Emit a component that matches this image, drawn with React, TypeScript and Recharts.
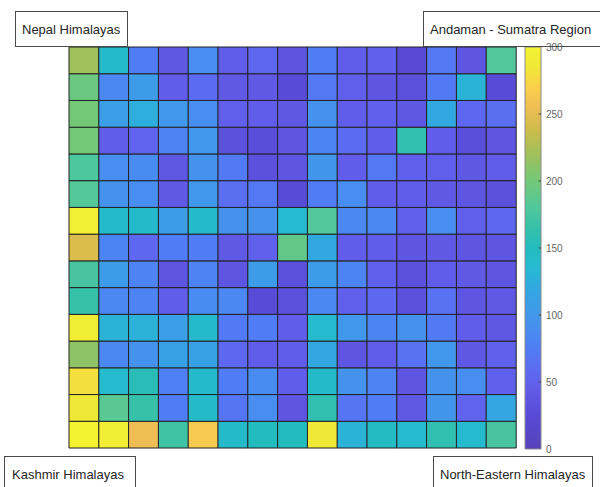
import { BarChart, Bar, Cell, XAxis, YAxis } from "recharts";

// 15 x 15 grid of cell values, row 1 = top of the map
const COLUMNS = ["c1", "c2", "c3", "c4", "c5", "c6", "c7", "c8", "c9", "c10", "c11", "c12", "c13", "c14", "c15"];

const ROW_1 = [220, 140, 75, 40, 90, 45, 55, 35, 75, 45, 50, 22, 70, 38, 180];
const ROW_2 = [195, 85, 105, 45, 60, 42, 42, 25, 70, 48, 38, 32, 72, 130, 25];
const ROW_3 = [200, 110, 125, 100, 90, 48, 45, 40, 95, 45, 50, 40, 120, 55, 62];
const ROW_4 = [200, 45, 52, 80, 100, 32, 28, 38, 82, 60, 45, 160, 45, 30, 38];
const ROW_5 = [178, 90, 88, 40, 95, 72, 32, 38, 98, 45, 70, 50, 48, 40, 45];
const ROW_6 = [182, 95, 90, 42, 100, 62, 70, 25, 75, 90, 45, 45, 42, 38, 32];
const ROW_7 = [295, 140, 142, 105, 140, 95, 95, 135, 180, 85, 85, 48, 90, 48, 55];
const ROW_8 = [245, 82, 55, 75, 75, 42, 50, 190, 120, 45, 45, 38, 42, 38, 38];
const ROW_9 = [175, 105, 80, 38, 80, 38, 105, 32, 105, 82, 50, 32, 45, 42, 38];
const ROW_10 = [165, 85, 80, 45, 88, 85, 25, 32, 85, 50, 55, 32, 65, 38, 42];
const ROW_11 = [292, 130, 128, 110, 140, 72, 75, 45, 138, 100, 82, 95, 72, 45, 40];
const ROW_12 = [212, 85, 95, 112, 112, 55, 45, 45, 118, 38, 45, 65, 100, 40, 50];
const ROW_13 = [280, 138, 155, 78, 140, 75, 88, 45, 142, 95, 80, 38, 95, 90, 50];
const ROW_14 = [285, 185, 165, 75, 142, 68, 90, 38, 160, 68, 75, 42, 98, 52, 118];
const ROW_15 = [300, 292, 255, 170, 265, 142, 150, 150, 285, 130, 145, 138, 160, 138, 175];

const ROWS = [ROW_1, ROW_2, ROW_3, ROW_4, ROW_5, ROW_6, ROW_7, ROW_8, ROW_9, ROW_10, ROW_11, ROW_12, ROW_13, ROW_14, ROW_15];

const CBAR_MAX = 300;
const CBAR_TICKS = [0, 50, 100, 150, 200, 250, 300];

const REGIONS = ["Nepal Himalayas", "Andaman - Sumatra Region", "Kashmir Himalayas", "North-Eastern Himalayas"];

// parula-like colormap, already lightened like the semi-transparent original
const COLOR_STOPS: [number, number[]][] = [
  [0, [88, 66, 185]],
  [25, [88, 75, 215]],
  [45, [97, 92, 233]],
  [60, [92, 108, 242]],
  [75, [80, 125, 245]],
  [90, [72, 142, 240]],
  [105, [62, 155, 232]],
  [120, [50, 168, 225]],
  [135, [38, 185, 210]],
  [150, [35, 188, 190]],
  [165, [55, 192, 170]],
  [180, [80, 200, 155]],
  [200, [115, 200, 120]],
  [220, [160, 192, 90]],
  [240, [210, 188, 75]],
  [255, [238, 190, 85]],
  [270, [250, 208, 75]],
  [285, [240, 232, 55]],
  [300, [245, 242, 50]],
];

function colorFor(v: number) {
  for (let i = 1; i < COLOR_STOPS.length; i++) {
    const [v1, c1] = COLOR_STOPS[i];
    if (v <= v1) {
      const [v0, c0] = COLOR_STOPS[i - 1];
      const t = (v - v0) / (v1 - v0);
      const c = c0.map((x, k) => Math.round(x + (c1[k] - x) * t));
      return `rgb(${c[0]},${c[1]},${c[2]})`;
    }
  }
  const c = COLOR_STOPS[COLOR_STOPS.length - 1][1];
  return `rgb(${c[0]},${c[1]},${c[2]})`;
}

// one stacked segment per row, one category per column
const gridData = COLUMNS.map((col) => {
  const d: Record<string, number | string> = { col };
  ROWS.forEach((_, r) => (d[`r${r}`] = 1));
  return d;
});

// bottom row first so it sits at the bottom of the stack
const stackOrder = ROWS.map((_, r) => r).reverse();

const FONT = "'Liberation Sans', Arial, sans-serif";

const boxStyle = (left: number, top: number, width: number, padLeft: number): React.CSSProperties => ({
  position: "absolute",
  left,
  top,
  width,
  height: 36,
  boxSizing: "border-box",
  border: "1px solid #4a4a4a",
  display: "flex",
  alignItems: "center",
  paddingLeft: padLeft,
  fontFamily: FONT,
  fontSize: 13,
  color: "#262626",
  whiteSpace: "nowrap",
});

// colorbar tick: little inward dash on the bar edge plus the label
function CbarTick(props: any) {
  const { x, y, payload } = props;
  const edge = x - 5;
  const showDash = payload.value !== 0 && payload.value !== CBAR_MAX;
  return (
    <g>
      {showDash && <line x1={edge - 2.5} x2={edge} y1={y} y2={y} stroke="#444" strokeWidth={1} />}
      <text x={x} y={y} dy={4} fontSize={10} fill="#666" fontFamily={FONT} textAnchor="start">
        {payload.value}
      </text>
    </g>
  );
}

export default function App() {
  return (
    <div
      style={{
        position: "absolute",
        left: 0,
        top: 0,
        width: 600,
        height: 487,
        background: "#fff",
        overflow: "hidden",
      }}
    >
      <div style={{ position: "absolute", left: 0, top: 0 }}>
        <BarChart
          width={600}
          height={487}
          data={gridData}
          margin={{ top: 47, right: 84, bottom: 39, left: 69 }}
          barCategoryGap={0}
          barGap={0}
        >
          <XAxis dataKey="col" hide />
          <YAxis hide domain={[0, ROWS.length]} />
          {stackOrder.map((r) => (
            <Bar key={r} dataKey={`r${r}`} stackId="grid" isAnimationActive={false}>
              {ROWS[r].map((v, c) => (
                <Cell key={c} fill={colorFor(v)} stroke="#222" strokeWidth={1} />
              ))}
            </Bar>
          ))}
        </BarChart>
      </div>

      <div style={{ position: "absolute", left: 515, top: 0 }}>
        <BarChart
          width={85}
          height={487}
          data={[{ name: "cb", v: CBAR_MAX }]}
          margin={{ top: 47, right: 19, bottom: 38, left: 10 }}
          barCategoryGap={0}
        >
          <defs>
            <linearGradient id="parula" x1="0" y1="1" x2="0" y2="0">
              {COLOR_STOPS.map(([v, c]) => (
                <stop key={v} offset={v / CBAR_MAX} stopColor={`rgb(${c[0]},${c[1]},${c[2]})`} />
              ))}
            </linearGradient>
          </defs>
          <XAxis dataKey="name" hide />
          <YAxis
            orientation="right"
            width={40}
            domain={[0, CBAR_MAX]}
            ticks={CBAR_TICKS}
            axisLine={false}
            tickLine={false}
            tickSize={2}
            tickMargin={3}
            tick={<CbarTick />}
          />
          <Bar dataKey="v" fill="url(#parula)" stroke="#8a8a8a" strokeWidth={1} isAnimationActive={false} />
        </BarChart>
      </div>

      <div style={boxStyle(15, 11, 113, 6)}>{REGIONS[0]}</div>
      <div style={boxStyle(423, 11, 200, 6)}>{REGIONS[1]}</div>
      <div style={boxStyle(4, 456, 132, 7)}>{REGIONS[2]}</div>
      <div style={boxStyle(433, 456, 160, 6)}>{REGIONS[3]}</div>
    </div>
  );
}
